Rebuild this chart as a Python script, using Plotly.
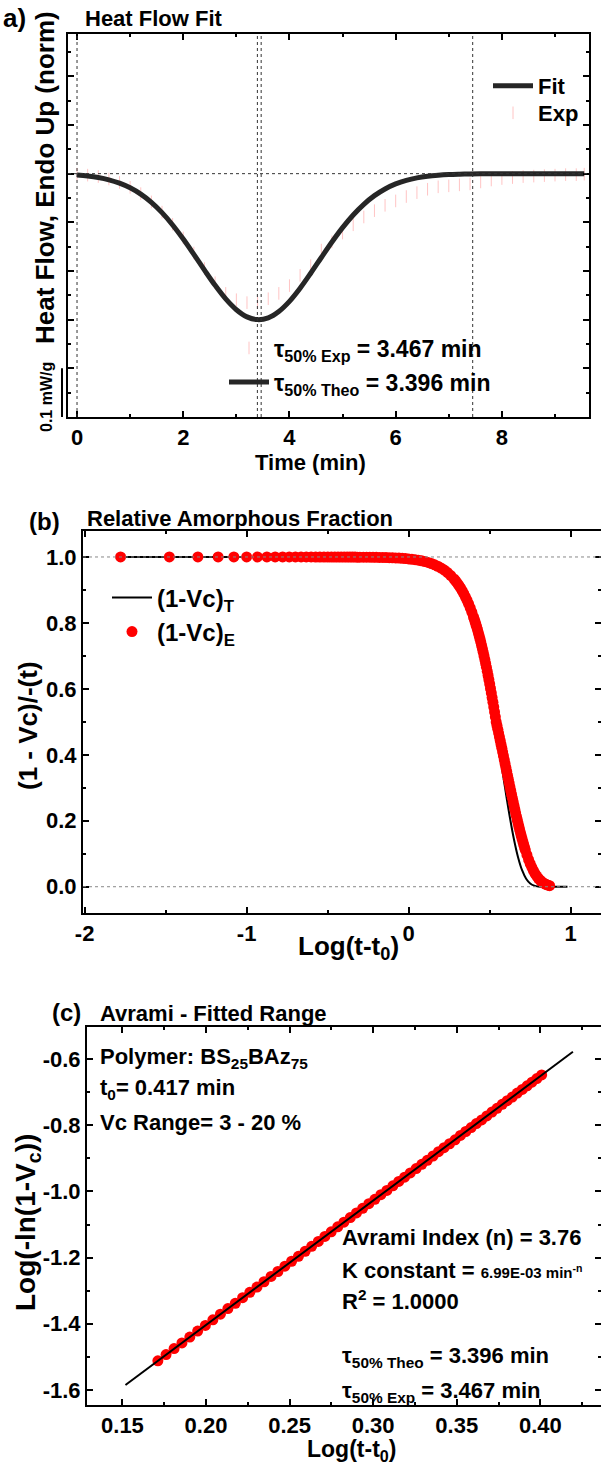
import plotly.graph_objects as go

W, H = 601, 1467
FONT = "Liberation Sans, Arial, sans-serif"

# ---------------- (a) heat flow fit ----------------
time_fit = [0.0, 0.2, 0.4, 0.6, 0.8, 1.0, 1.2, 1.4, 1.6, 1.8, 2.0, 2.2, 2.4, 2.6, 2.8,
            3.0, 3.2, 3.4, 3.6, 3.8, 4.0, 4.2, 4.4, 4.6, 4.8, 5.0, 5.2, 5.4, 5.6, 5.8,
            6.0, 6.2, 6.4, 6.6, 6.8, 7.0, 7.2, 7.4, 7.6, 7.8, 8.0, 8.2, 8.4, 8.6, 8.8,
            9.0, 9.2, 9.4, 9.55]
heat_fit = [-0.0028, -0.0048, -0.0079, -0.0126, -0.0195, -0.0291, -0.0421, -0.0590,
            -0.0801, -0.1054, -0.1343, -0.1658, -0.1982, -0.2295, -0.2574, -0.2796,
            -0.2943, -0.2999, -0.2962, -0.2832, -0.2624, -0.2354, -0.2046, -0.1722,
            -0.1404, -0.1109, -0.0848, -0.0629, -0.0451, -0.0314, -0.0211, -0.0138,
            -0.0087, -0.0053, -0.0032, -0.0018, -0.0010, -0.0005, -0.0002, 0.0, 0.0,
            0.0, 0.0, 0.0, 0.0, 0.0, 0.0, 0.0, 0.0]

time_exp = [0.0, 0.2, 0.4, 0.6, 0.8, 1.0, 1.2, 1.4, 1.6, 1.8, 2.0, 2.2, 2.4, 2.6, 2.8,
            3.0, 3.2, 3.4, 3.6, 3.8, 4.0, 4.2, 4.4, 4.6, 4.8, 5.0, 5.2, 5.4, 5.6, 5.8,
            6.0, 6.2, 6.4, 6.6, 6.8, 7.0, 7.2, 7.4, 7.6, 7.8, 8.0, 8.2, 8.4, 8.6, 8.8,
            9.0, 9.2, 9.4, 9.55]
heat_exp = [-0.001, -0.003, -0.006, -0.011, -0.018, -0.028, -0.041, -0.058, -0.079,
            -0.104, -0.132, -0.163, -0.195, -0.224, -0.246, -0.259, -0.265, -0.265,
            -0.257, -0.246, -0.230, -0.209, -0.189, -0.157, -0.140, -0.122, -0.105,
            -0.089, -0.076, -0.065, -0.056, -0.047, -0.039, -0.032, -0.027, -0.025,
            -0.023, -0.021, -0.017, -0.013, -0.010, -0.008, -0.006, -0.005, -0.004,
            -0.003, -0.002, -0.002, -0.001]

tau_theo, tau_exp, t_end = 3.396, 3.467, 7.45
time_ticks = [0, 2, 4, 6, 8]
time_ticktext = ["0", "2", "4", "6", "8"]

# ---------------- (b) relative amorphous fraction ----------------
logt_theo = [-1.778, -1.0, -0.5, 0.0, 0.1, 0.15, 0.2, 0.25, 0.3, 0.35, 0.4, 0.425,
             0.45, 0.475, 0.5, 0.525, 0.55, 0.575, 0.6, 0.625, 0.65, 0.675, 0.7,
             0.725, 0.75, 0.775, 0.8, 0.85, 0.98]
amorph_theo = [1.0, 1.0, 0.9999, 0.9930, 0.9835, 0.9747, 0.9613, 0.9409, 0.9104,
               0.8653, 0.8000, 0.7580, 0.7090, 0.6525, 0.5885, 0.5177, 0.4415, 0.3624,
               0.2836, 0.2091, 0.1433, 0.0896, 0.0500, 0.0243, 0.0099, 0.0032, 0.0008,
               0.0001, 0.0]

logt_exp = [
    -1.778, -1.477, -1.301, -1.176, -1.079, -1.000, -0.933, -0.875, -0.824, -0.778,
    -0.737, -0.699, -0.664, -0.632, -0.602, -0.574, -0.548, -0.523, -0.499, -0.477,
    -0.456, -0.436, -0.417, -0.398, -0.380, -0.363, -0.347, -0.331, -0.316, -0.301,
    -0.28, -0.26, -0.24, -0.22, -0.20, -0.18, -0.16, -0.14, -0.12, -0.10, -0.08,
    -0.06, -0.04, -0.02, 0.00, 0.02, 0.04, 0.06, 0.08, 0.10, 0.12, 0.14, 0.16, 0.18,
    0.20, 0.22, 0.24, 0.26, 0.28,
    0.29, 0.30, 0.31, 0.32, 0.33, 0.34, 0.35, 0.36, 0.37, 0.38, 0.39, 0.40,
    0.405, 0.410, 0.415, 0.420, 0.425, 0.430, 0.435, 0.440, 0.445, 0.450, 0.455,
    0.460, 0.465, 0.470, 0.475, 0.480, 0.485, 0.490, 0.495, 0.500, 0.505, 0.510,
    0.515, 0.520, 0.525, 0.530, 0.535, 0.540, 0.545, 0.550, 0.555, 0.560, 0.565,
    0.570, 0.575, 0.580, 0.585, 0.590, 0.595, 0.600, 0.605, 0.610, 0.615, 0.620,
    0.625, 0.630, 0.635, 0.640, 0.645, 0.650, 0.655, 0.660, 0.665, 0.670, 0.675,
    0.680, 0.685, 0.690, 0.695, 0.700, 0.705, 0.710, 0.715, 0.720,
    0.73, 0.74, 0.75, 0.76, 0.77, 0.78, 0.79, 0.80, 0.81, 0.82, 0.83, 0.84, 0.85,
    0.86, 0.87]
amorph_exp = [
    1.0, 1.0, 1.0, 1.0, 1.0, 1.0, 1.0, 1.0, 1.0, 1.0,
    1.0, 1.0, 1.0, 1.0, 1.0, 0.9999, 0.9999, 0.9999, 0.9999, 0.9998,
    0.9998, 0.9998, 0.9997, 0.9997, 0.9997, 0.9996, 0.9996, 0.9996, 0.9995, 0.9995,
    0.9995, 0.9994, 0.9993, 0.9992, 0.9990, 0.9988, 0.9986, 0.9983, 0.9980, 0.9976,
    0.9972, 0.9966, 0.9960, 0.9952, 0.9942, 0.9931, 0.9918, 0.9902, 0.9883, 0.9861,
    0.9834, 0.9802, 0.9764, 0.9719, 0.9665, 0.9602, 0.9526, 0.9437, 0.9332,
    0.9272, 0.9207, 0.9137, 0.9061, 0.8978, 0.8889, 0.8793, 0.8688, 0.8576, 0.8455,
    0.8324, 0.8184,
    0.8110, 0.8033, 0.7954, 0.7871, 0.7787, 0.7699, 0.7608, 0.7515, 0.7418, 0.7318,
    0.7215, 0.7109, 0.7000, 0.6888, 0.6773, 0.6654, 0.6532, 0.6407, 0.6280, 0.6148,
    0.6014, 0.5877, 0.5737, 0.5595, 0.5450, 0.5301, 0.5151, 0.4999, 0.4887, 0.4775,
    0.4661, 0.4546, 0.4431, 0.4316, 0.4199, 0.4082, 0.3965, 0.3848, 0.3730, 0.3613,
    0.3495, 0.3377, 0.3260, 0.3143, 0.3027, 0.2912, 0.2797, 0.2684, 0.2572, 0.2461,
    0.2351, 0.2242, 0.2136, 0.2031, 0.1929, 0.1828, 0.1730, 0.1635, 0.1541, 0.1450,
    0.1361, 0.1276, 0.1193, 0.1113,
    0.0963, 0.0825, 0.0699, 0.0587, 0.0486, 0.0398, 0.0322, 0.0257, 0.0201, 0.0156,
    0.0118, 0.0088, 0.0064, 0.0046, 0.0032]

logt_ticks = [-2, -1, 0, 1]
logt_ticktext = ["-2", "-1", "0", "1"]
frac_ticks = [0.0, 0.2, 0.4, 0.6, 0.8, 1.0]
frac_ticktext = ["0.0", "0.2", "0.4", "0.6", "0.8", "1.0"]

# ---------------- (c) Avrami fitted range ----------------
avrami_line_x = [0.1518, 0.4195]
avrami_line_y = [-1.5848, -0.5782]

avrami_x = [
    0.1712, 0.1761, 0.1809, 0.1856, 0.1903, 0.1950, 0.1996, 0.2041, 0.2086, 0.2131,
    0.2175, 0.2219, 0.2262, 0.2305, 0.2347, 0.2389, 0.2430, 0.2472, 0.2512, 0.2553,
    0.2593, 0.2632, 0.2672, 0.2711, 0.2749, 0.2788, 0.2825, 0.2863, 0.2900, 0.2937,
    0.2974, 0.3010, 0.3046, 0.3082, 0.3118, 0.3153, 0.3188, 0.3222, 0.3257, 0.3291,
    0.3324, 0.3358, 0.3391, 0.3424, 0.3457, 0.3490, 0.3522, 0.3554, 0.3586, 0.3617,
    0.3649, 0.3680, 0.3711, 0.3741, 0.3772, 0.3802, 0.3832, 0.3862, 0.3892, 0.3921,
    0.3950, 0.3979, 0.4008]
avrami_y = [
    -1.512, -1.493, -1.475, -1.458, -1.440, -1.422, -1.405, -1.388, -1.371, -1.354,
    -1.338, -1.321, -1.305, -1.289, -1.273, -1.257, -1.242, -1.226, -1.211, -1.196,
    -1.181, -1.166, -1.151, -1.136, -1.122, -1.107, -1.093, -1.079, -1.065, -1.051,
    -1.037, -1.024, -1.010, -0.997, -0.983, -0.970, -0.957, -0.944, -0.931, -0.918,
    -0.906, -0.893, -0.880, -0.868, -0.856, -0.844, -0.831, -0.819, -0.807, -0.795,
    -0.784, -0.772, -0.760, -0.749, -0.737, -0.726, -0.715, -0.703, -0.692, -0.681,
    -0.670, -0.659, -0.648]

avr_xticks = [0.15, 0.20, 0.25, 0.30, 0.35, 0.40]
avr_xticktext = ["0.15", "0.20", "0.25", "0.30", "0.35", "0.40"]
avr_yticks = [-1.6, -1.4, -1.2, -1.0, -0.8, -0.6]
avr_yticktext = ["-1.6", "-1.4", "-1.2", "-1.0", "-0.8", "-0.6"]

# ------------------------------------------------------------------
def fx(px):
    return px / W


def fy(py):
    return 1 - py / H


def txt(s, x, y, size=21, xanchor="center", angle=0, yanchor="middle"):
    return dict(text=s, x=fx(x), y=fy(y), xref="paper", yref="paper",
                xanchor=xanchor, yanchor=yanchor, textangle=angle, showarrow=False,
                font=dict(family=FONT, size=size, color="black", weight="bold"))


RED = "#ff0000"
PINK = "#ffc4c4"
DARK = "#262626"

fig = go.Figure()

# (a)
fig.add_trace(go.Scatter(x=time_exp, y=heat_exp, mode="markers", name="Exp",
                         marker=dict(symbol="line-ns", size=9,
                                     line=dict(color=PINK, width=1)),
                         xaxis="x", yaxis="y", legend="legend4"))
fig.add_trace(go.Scatter(x=time_fit, y=heat_fit, mode="lines", name="Fit",
                         line=dict(color=DARK, width=5, shape="spline"),
                         xaxis="x", yaxis="y", legend="legend"))
fig.add_trace(go.Scatter(x=[None], y=[None], mode="markers",
                         name="τ<sub>50% Exp</sub> = 3.467 min",
                         marker=dict(symbol="line-ns", size=9,
                                     line=dict(color=PINK, width=1)),
                         xaxis="x", yaxis="y", legend="legend3"))
fig.add_trace(go.Scatter(x=[None], y=[None], mode="lines",
                         name="τ<sub>50% Theo</sub> = 3.396 min",
                         line=dict(color=DARK, width=5),
                         xaxis="x", yaxis="y", legend="legend6"))

# (b)
fig.add_trace(go.Scatter(x=logt_theo, y=amorph_theo, mode="lines",
                         name="(1-Vc)<sub>T</sub>",
                         line=dict(color="black", width=2, shape="spline"),
                         xaxis="x2", yaxis="y2", legend="legend2"))
fig.add_trace(go.Scatter(x=logt_exp, y=amorph_exp, mode="markers",
                         name="(1-Vc)<sub>E</sub>",
                         marker=dict(color=RED, size=11, line=dict(width=0)),
                         xaxis="x2", yaxis="y2", legend="legend5"))

# (c)
fig.add_trace(go.Scatter(x=avrami_x, y=avrami_y, mode="markers", showlegend=False,
                         marker=dict(color=RED, size=11, line=dict(width=0)),
                         xaxis="x3", yaxis="y3"))
fig.add_trace(go.Scatter(x=avrami_line_x, y=avrami_line_y, mode="lines",
                         showlegend=False, line=dict(color="black", width=2),
                         xaxis="x3", yaxis="y3"))

tickfont = dict(family=FONT, size=22, color="black", weight="bold")


def axis(domain, rng, minor, anchor, tickvals=None, ticktext=None, dtick=None,
         tick0=None):
    d = dict(domain=domain, range=rng, anchor=anchor, automargin=False,
             showline=True, linecolor="black", linewidth=2, mirror="ticks",
             ticks="inside", ticklen=6, tickwidth=2, tickcolor="black",
             showgrid=False, zeroline=False, tickfont=tickfont,
             minor=dict(dtick=minor, ticks="inside", ticklen=3, tickwidth=1.5,
                        tickcolor="black", showgrid=False))
    if tickvals is not None:
        d.update(tickmode="array", tickvals=tickvals,
                 ticktext=["<b>%s</b>" % s for s in ticktext])
    else:
        d.update(dtick=dtick, tick0=tick0, showticklabels=False)
    return d


def leg(x, y, size=23):
    return dict(x=fx(x), y=fy(y), xanchor="left", yanchor="middle",
                bgcolor="rgba(0,0,0,0)", itemwidth=40,
                font=dict(family=FONT, size=size, color="black", weight="bold"))


layout = dict(
    width=W, height=H, margin=dict(l=0, r=0, t=0, b=0, autoexpand=False),
    paper_bgcolor="white", plot_bgcolor="white",
    font=dict(family=FONT, size=21, color="black", weight="bold"),
    xaxis=axis([fx(68), fx(589)], [-0.17, 9.64], 1, "y", time_ticks, time_ticktext),
    yaxis=axis([fy(417), fy(34)], [-0.5, 0.287], 0.05, "x", dtick=0.1, tick0=0),
    xaxis2=axis([fx(83), 1.0], [-2.01, 1.187], 0.5, "y2", logt_ticks, logt_ticktext),
    yaxis2=axis([fy(913), fy(531)], [-0.0797, 1.0788], 0.1, "x2", frac_ticks,
                frac_ticktext),
    xaxis3=axis([fx(87), 1.0], [0.1288, 0.4363], 0.025, "y3", avr_xticks,
                avr_xticktext),
    yaxis3=axis([fy(1405), fy(1027)], [-1.6454, -0.5032], 0.1, "x3", avr_yticks,
                avr_yticktext),
    legend=leg(488, 86, 22),
    legend4=leg(488, 113, 22),
    legend3=leg(224, 348, 23),
    legend6=leg(224, 382, 23),
    legend2=leg(107, 598, 24),
    legend5=leg(107, 632, 24),
)
fig.update_layout(**layout)

# reference lines
dot = dict(color="#333333", width=1, dash="dot")
shapes = []
for t in [0.0, tau_theo, tau_exp, t_end]:
    shapes.append(dict(type="line", xref="x", yref="y domain", x0=t, x1=t, y0=0, y1=1,
                       line=dot))
shapes.append(dict(type="line", xref="x domain", yref="y", x0=0, x1=1, y0=0, y1=0,
                   line=dot))
for v in [0.0, 1.0]:
    shapes.append(dict(type="line", xref="x2 domain", yref="y2", x0=0, x1=1, y0=v,
                       y1=v, line=dict(color="#888888", width=1, dash="dot")))
# 0.1 mW/g scale bar
shapes.append(dict(type="line", xref="paper", yref="y", x0=fx(62), x1=fx(62),
                   y0=-0.5, y1=-0.4, line=dict(color="black", width=2)))
fig.update_layout(shapes=shapes)

annotations = [
    txt("a)", 14, 18, 26),
    txt("Heat Flow Fit", 83, 18, 22, "left"),
    txt("Heat Flow, Endo Up (norm)", 45, 178, 26, angle=-90),
    txt("0.1 mW/g", 46, 397, 16, angle=-90),
    txt("Time (min)", 310, 462, 22),
    txt("(b)", 44, 522, 24),
    txt("Relative Amorphous Fraction", 85, 518, 22, "left"),
    txt("(1 - Vc)/-(t)", 28, 726, 26, angle=-90),
    txt("Log(t-t<sub>0</sub>)", 348, 947, 26),
    txt("(c)", 66, 1012, 24),
    txt("Avrami - Fitted Range", 98, 1013, 22, "left"),
    txt("Log(-ln(1-V<sub>c</sub>))", 27, 1223, 28, angle=-90),
    txt("Log(t-t<sub>0</sub>)", 351, 1467, 23, yanchor="bottom"),
    txt("Polymer: BS<sub>25</sub>BAz<sub>75</sub>", 98, 1058, 22, "left"),
    txt("t<sub>0</sub>= 0.417 min", 98, 1089, 22, "left"),
    txt("Vc Range= 3 - 20 %", 98, 1122, 22, "left"),
    txt("Avrami Index (n) = 3.76", 340, 1237, 22, "left"),
    txt("K constant = <span style='font-size:15px'>6.99E-03 min<sup>-n</sup></span>",
        340, 1270, 22, "left"),
    txt("R<sup>2</sup> = 1.0000", 340, 1300, 22, "left"),
    txt("τ<sub>50% Theo</sub> = 3.396 min", 340, 1357, 22, "left"),
    txt("τ<sub>50% Exp</sub> = 3.467 min", 340, 1392, 22, "left"),
]
fig.update_layout(annotations=annotations)

fig.write_html("out.html")
